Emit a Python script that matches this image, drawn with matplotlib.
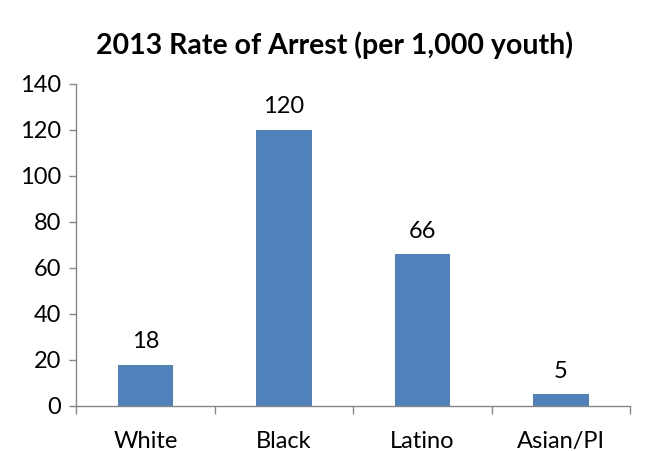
import matplotlib
matplotlib.use("Agg")
import matplotlib.pyplot as plt
from matplotlib.ticker import FixedLocator

categories = ["White", "Black", "Latino", "Asian/PI"]
values = [18, 120, 66, 5]
yticks = [0, 20, 40, 60, 80, 100, 120, 140]

plt.rcParams['font.family'] = ['Lato', 'DejaVu Sans']

fig = plt.figure(figsize=(6.45, 4.51), dpi=100)
ax = fig.add_axes([0.118, 0.0998, 0.859, 0.714])

x = list(range(len(categories)))
bars = ax.bar(x, values, width=0.4, color="#4F81BD", zorder=2)
for xi, v in zip(x, values):
    ax.annotate(str(v), (xi, v), xytext=(0, 9), textcoords="offset points",
                ha="center", va="bottom", fontsize=17, color="black")

ax.set_xlim(-0.5, len(categories) - 0.5)
ax.set_ylim(0, 140)
ax.set_yticks(yticks)
ax.set_xticks(x)
ax.set_xticklabels(categories, fontsize=17)
ax.xaxis.set_minor_locator(FixedLocator([i - 0.5 for i in range(len(categories) + 1)]))
ax.tick_params(axis="x", which="major", length=0, pad=18)
ax.tick_params(axis="x", which="minor", length=6, width=1, color="#868686", direction="out")
ax.tick_params(axis="y", labelsize=17, length=5, width=1, color="#868686", direction="out", pad=6)
for s in ["top", "right"]:
    ax.spines[s].set_visible(False)
for s in ["left", "bottom"]:
    ax.spines[s].set_color("#868686")
    ax.spines[s].set_linewidth(1)

fig.text(0.518, 0.90, "2013 Rate of Arrest (per 1,000 youth)", ha="center", va="center",
         fontsize=20.5, fontweight="bold")
fig.savefig("out.png", dpi=100)
